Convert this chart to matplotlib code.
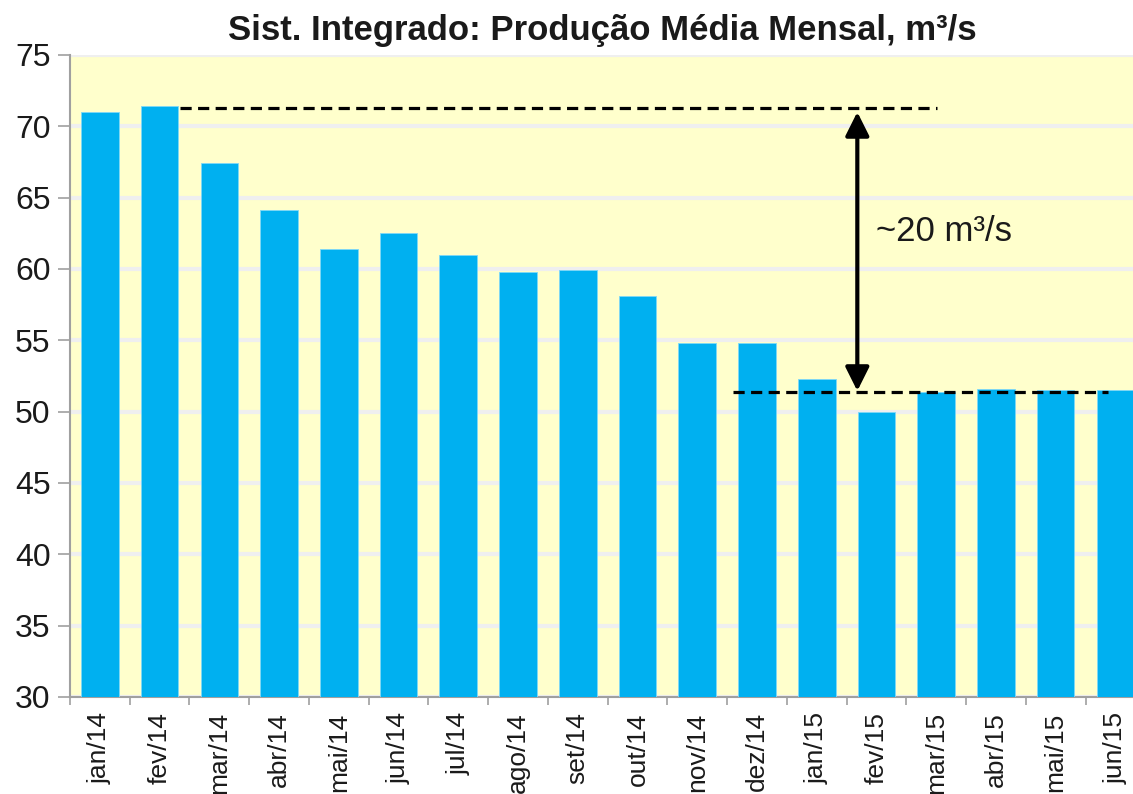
import matplotlib
matplotlib.use('Agg')
import matplotlib.pyplot as plt
import numpy as np

meses = ['jan/14', 'fev/14', 'mar/14', 'abr/14', 'mai/14', 'jun/14', 'jul/14', 'ago/14', 'set/14',
         'out/14', 'nov/14', 'dez/14', 'jan/15', 'fev/15', 'mar/15', 'abr/15', 'mai/15', 'jun/15']
producao = [71.0, 71.4, 67.4, 64.1, 61.4, 62.5, 61.0, 59.8, 59.9,
            58.1, 54.8, 54.8, 52.3, 50.0, 51.4, 51.6, 51.5, 51.5]
nivel_alto = 71.3
nivel_baixo = 51.4
texto_delta = '~20 m³/s'

plt.rcParams['font.family'] = ['Liberation Sans', 'DejaVu Sans']

fig = plt.figure(figsize=(11.33, 7.94), dpi=100)
ax = fig.add_axes([0.0618, 0.1222, 0.949, 0.8086])

x = np.arange(len(meses))
ax.set_facecolor('#FFFFCC')
ax.bar(x, producao, width=0.63, color='#00B0F0', edgecolor='#7FD8F8', linewidth=0.6, zorder=3)

ax.set_xlim(-0.5, len(meses) - 0.5)
ax.set_ylim(30, 75)
ax.set_yticks(np.arange(30, 76, 5))
ax.yaxis.grid(True, color='#EFEFEF', linewidth=3, zorder=1)
ax.set_axisbelow(True)

ax.set_xticks(x)
ax.set_xticklabels(meses, rotation=90, fontsize=19, color='#1a1a1a')
ax.set_xticks(np.arange(-0.5, len(meses), 1), minor=True)
ax.tick_params(axis='x', which='major', length=0, pad=11)
ax.tick_params(axis='x', which='minor', length=6, color='#A0A0A0', width=1.2)
ax.tick_params(axis='y', labelsize=23, length=9, color='#A0A0A0', width=1.2, labelcolor='#1a1a1a', pad=5)

for s in ['top', 'right']:
    ax.spines[s].set_visible(False)
for s in ['left', 'bottom']:
    ax.spines[s].set_color('#A0A0A0')
    ax.spines[s].set_linewidth(1.5)

# linhas de referencia
ax.plot([1.34, 14.02], [nivel_alto, nivel_alto], color='black', linestyle=(0, (3.5, 2)), linewidth=2.3, zorder=4)
ax.plot([10.6, 16.87], [nivel_baixo, nivel_baixo], color='black', linestyle=(0, (3.5, 2)), linewidth=2.3, zorder=4)
ax.annotate('', xy=(12.68, nivel_alto - 0.3), xytext=(12.68, nivel_baixo + 0.05),
            arrowprops=dict(arrowstyle='<|-|>', color='black', lw=3, mutation_scale=36,
                            shrinkA=0, shrinkB=0), zorder=5)
ax.text(13.0, 62.6, texto_delta, fontsize=25, va='center', ha='left', color='#1a1a1a', zorder=5)

fig.text(0.532, 0.961, 'Sist. Integrado: Produção Média Mensal, m³/s', ha='center', va='center',
         fontsize=25, fontweight='bold', color='#1a1a1a')

plt.savefig('out.png', dpi=100)
